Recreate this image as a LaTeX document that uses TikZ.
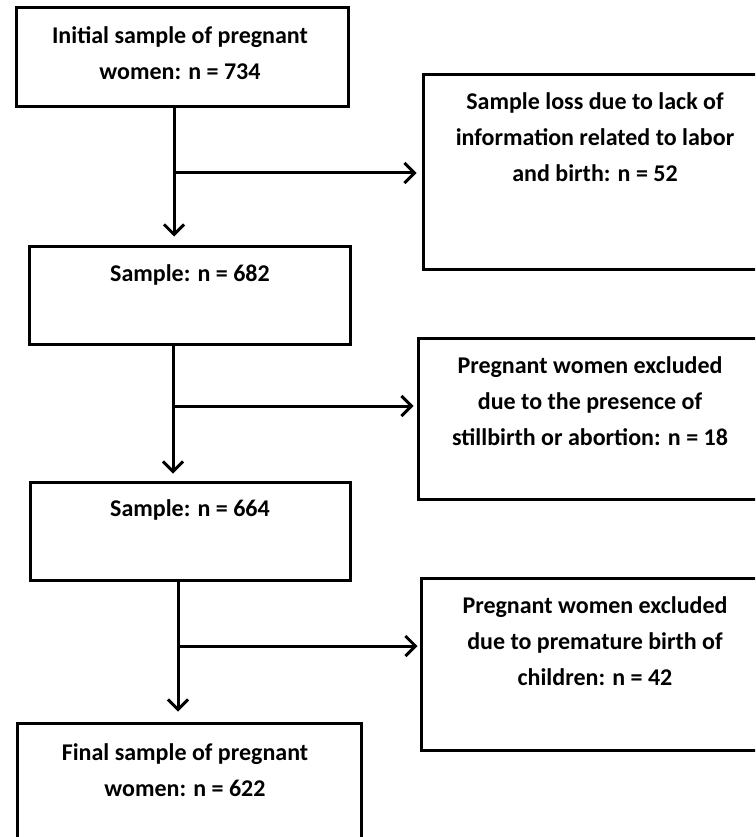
\documentclass[tikz,border=0pt]{standalone}
\usepackage{fontspec}
\setmainfont{Carlito}
\usetikzlibrary{arrows.meta}

\tikzset{
  frame/.style={draw, line width=3pt, inner sep=0pt},
  txt/.style={align=center, inner sep=0pt, font=\bfseries\fontsize{24}{36}\selectfont},
  flow/.style={line width=3pt, -{Straight Barb[length=10pt,width=20pt]}},
}

\begin{document}
\begin{tikzpicture}[x=1pt,y=1pt,yscale=-1,xscale=1]
    \clip (0,0) rectangle (755,837);
    \fill[white] (0,0) rectangle (755,837);
        %Boxes
        \node[frame, minimum width=332, minimum height=99] (A) at (182,57.5) {};
        \node[frame, minimum width=321, minimum height=98] (B) at (189.5,295) {};
        \node[frame, minimum width=320, minimum height=98] (C) at (190,531) {};
        \node[frame, minimum width=344, minimum height=127] (D) at (189,786.5) {};
        \node[frame, minimum width=347, minimum height=194] (R1) at (596.5,172) {};
        \node[frame, minimum width=352, minimum height=161] (R2) at (594,418.5) {};
        \node[frame, minimum width=349, minimum height=172] (R3) at (595.5,664) {};
        %Junctions
        \coordinate (j1) at (174,173);
        \coordinate (j2) at (173,406);
        \coordinate (j3) at (178,646);
        %Straight Lines
        \draw[flow, shorten >=8pt] (A.south -| j1) -- (B.north -| j1);
        \draw[flow, shorten >=5pt] (j1) -- (R1.west |- j1);
        \draw[flow, shorten >=7pt] (B.south -| j2) -- (C.north -| j2);
        \draw[flow, shorten >=3pt] (j2) -- (R2.west |- j2);
        \draw[flow, shorten >=10pt] (C.south -| j3) -- (D.north -| j3);
        \draw[flow, shorten >=2pt] (j3) -- (R3.west |- j3);

        % Text Node
        \node[txt] (tA) at (180,53.5) {Initial sample of pregnant\\women: n = 734};
        % Text Node
        \node[txt] (tB) at (190,275) {Sample: n = 682};
        % Text Node
        \node[txt] (tC) at (190,510) {Sample: n = 664};
        % Text Node
        \node[txt] (tD) at (185,770) {Final sample of pregnant\\women: n = 622};
        % Text Node
        \node[txt] (tR1) at (595,137) {Sample loss due to lack of\\information related to labor\\and birth: n = 52};
        % Text Node
        \node[txt] (tR2) at (590,401) {Pregnant women excluded\\due to the presence of\\stillbirth or abortion: n = 18};
        % Text Node
        \node[txt] (tR3) at (595,641) {Pregnant women excluded\\due to premature birth of\\children: n = 42};
\end{tikzpicture}
\end{document}
